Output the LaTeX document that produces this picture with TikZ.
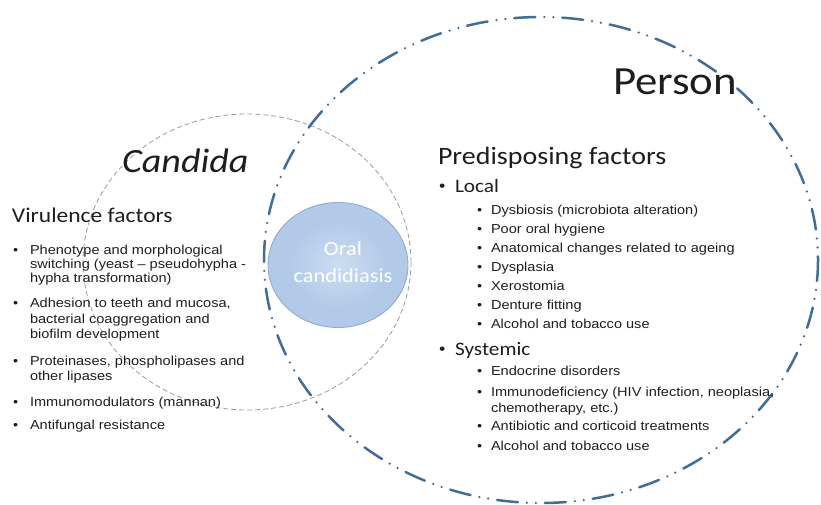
\documentclass[tikz,border=0pt]{standalone}
\usepackage{fontspec}
\newfontfamily\calfont{Carlito}[FakeStretch=1.12]
\newfontfamily\arfont{Liberation Sans}[FakeStretch=1.12]
\definecolor{ink}{HTML}{1E1E1E}
\definecolor{personblue}{HTML}{416D97}
\definecolor{ringgray}{HTML}{9A9A9A}
\definecolor{oralin}{HTML}{CCDDF1}
\definecolor{oralout}{HTML}{B2CAE8}
\definecolor{oraledge}{HTML}{8EACD2}
\begin{document}
\begin{tikzpicture}[x=1pt, y=-1pt,
  txt/.style={inner sep=0pt, outer sep=0pt, text=ink, anchor=base west},
  headline/.style={txt, font=\calfont\fontsize{#1}{#1}\selectfont},
  itemtext/.style={txt, font=\arfont\fontsize{13}{15}\selectfont},
  dotmark/.style={txt, font=\arfont\fontsize{13}{15}\selectfont},
  bigdot/.style={txt, font=\arfont\fontsize{16}{16}\selectfont},
  personring/.style={draw=personblue, line width=2.5pt, line cap=round,
    dash pattern=on 21pt off 9pt on 0pt off 9pt on 0pt off 9pt},
  candidaring/.style={draw=ringgray, line width=0.8pt, dash pattern=on 5pt off 3pt},
]
\useasboundingbox (0,0) rectangle (821,505);

% Candida ring and Person ring
\draw[candidaring] (247,262) ellipse [x radius=164, y radius=148];
\draw[personring] (541,260) ellipse [x radius=277, y radius=243];

% overlap: oral candidiasis
\fill[oralout] (338,265) ellipse [x radius=70, y radius=62.5];
\shade[inner color=oralin, outer color=oralout] (338,265) ellipse [x radius=48, y radius=43];
\draw[oraledge, line width=0.9pt] (338,265) ellipse [x radius=70, y radius=62.5];
\node[inner sep=0pt, anchor=base, text=white, font=\calfont\fontsize{20}{20}\selectfont] (oral1) at (343,255) {Oral};
\node[inner sep=0pt, anchor=base, text=white, font=\calfont\fontsize{20}{20}\selectfont] (oral2) at (343,282) {candidiasis};

% titles
\node[headline=40] (person) at (613,95) {Person};
\node[headline=34, font=\calfont\itshape\fontsize{34}{34}\selectfont] (candida) at (122,172) {Candida};

% virulence factors
\node[headline=21] (vir) at (12,222) {Virulence factors};
\node[dotmark] (vb1) at (13,254) {•};
\node[itemtext] (v1a) at (30,254) {Phenotype and morphological};
\node[itemtext] (v1b) at (30,268) {switching (yeast – pseudohypha -};
\node[itemtext] (v1c) at (30,282) {hypha transformation)};
\node[dotmark] (vb2) at (13,307) {•};
\node[itemtext] (v2a) at (30,307) {Adhesion to teeth and mucosa,};
\node[itemtext] (v2b) at (30,323) {bacterial coaggregation and};
\node[itemtext] (v2c) at (30,338) {biofilm development};
\node[dotmark] (vb3) at (13,365) {•};
\node[itemtext] (v3a) at (30,365) {Proteinases, phospholipases and};
\node[itemtext] (v3b) at (30,380) {other lipases};
\node[dotmark] (vb4) at (13,406) {•};
\node[itemtext] (v4a) at (30,406) {Immunomodulators (mannan)};
\node[dotmark] (vb5) at (13,429) {•};
\node[itemtext] (v5a) at (30,429) {Antifungal resistance};

% predisposing factors
\node[headline=25] (pred) at (438,165) {Predisposing factors};
\node[bigdot] (lb) at (439,192) {•};
\node[headline=19] (local) at (455,193) {Local};
\node[dotmark] (lb1) at (477,214) {•};
\node[itemtext] (l1) at (491,214) {Dysbiosis (microbiota alteration)};
\node[dotmark] (lb2) at (477,233) {•};
\node[itemtext] (l2) at (491,233) {Poor oral hygiene};
\node[dotmark] (lb3) at (477,252) {•};
\node[itemtext] (l3) at (491,252) {Anatomical changes related to ageing};
\node[dotmark] (lb4) at (477,271) {•};
\node[itemtext] (l4) at (491,271) {Dysplasia};
\node[dotmark] (lb5) at (477,290) {•};
\node[itemtext] (l5) at (491,290) {Xerostomia};
\node[dotmark] (lb6) at (477,309) {•};
\node[itemtext] (l6) at (491,309) {Denture fitting};
\node[dotmark] (lb7) at (477,328) {•};
\node[itemtext] (l7) at (491,328) {Alcohol and tobacco use};

\node[bigdot] (sb) at (439,354) {•};
\node[headline=19] (systemic) at (455,355) {Systemic};
\node[dotmark] (sb1) at (477,375) {•};
\node[itemtext] (s1) at (491,375) {Endocrine disorders};
\node[dotmark] (sb2) at (477,396) {•};
\node[itemtext] (s2a) at (491,396) {Immunodeficiency (HIV infection, neoplasia,};
\node[itemtext] (s2b) at (491,412) {chemotherapy, etc.)};
\node[dotmark] (sb3) at (477,430) {•};
\node[itemtext] (s3) at (491,430) {Antibiotic and corticoid treatments};
\node[dotmark] (sb4) at (477,450) {•};
\node[itemtext] (s4) at (491,450) {Alcohol and tobacco use};
\end{tikzpicture}
\end{document}
